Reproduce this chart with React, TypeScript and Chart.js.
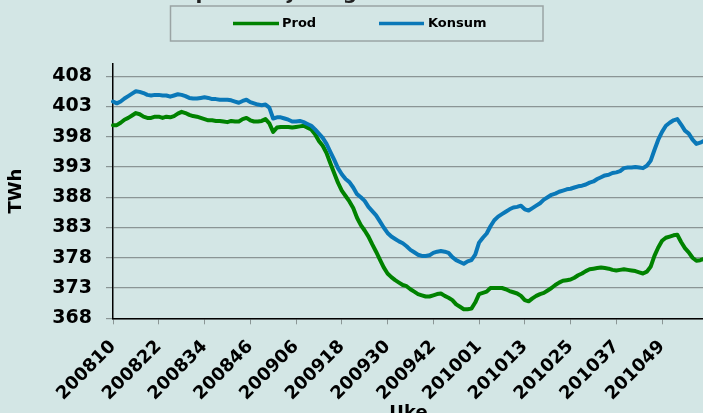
import React, { useEffect, useRef } from 'react';
import { Chart, registerables } from 'chart.js';

Chart.register(...registerables);

// ---- Data ----
const YEAR_WEEKS: Record<number, number> = { 2008: 52, 2009: 53, 2010: 52, 2011: 52 };
function buildWeeks(year: number, week: number, count: number): string[] {
  const out: string[] = [];
  let y = year;
  let w = week;
  for (let k = 0; k < count; k++) {
    out.push(`${y}${String(w).padStart(2, '0')}`);
    w++;
    if (w > YEAR_WEEKS[y]) {
      y++;
      w = 1;
    }
  }
  return out;
}

const prod = [
  399.9, 399.9, 400.3, 400.8, 401.1, 401.5, 401.9, 401.7, 401.3, 401.1,
  401.1, 401.3, 401.3, 401.1, 401.3, 401.2, 401.4, 401.8, 402.1, 401.9,
  401.6, 401.4, 401.3, 401.1, 400.9, 400.7, 400.7, 400.6, 400.6, 400.5,
  400.4, 400.6, 400.5, 400.5, 400.9, 401.1, 400.7, 400.5, 400.5, 400.6,
  400.9, 400.2, 398.8, 399.5, 399.6, 399.6, 399.6, 399.5, 399.6, 399.7,
  399.8, 399.5, 399.2, 398.4, 397.3, 396.5, 395.3, 393.6, 392.0, 390.4,
  389.1, 388.2, 387.3, 386.2, 384.6, 383.4, 382.5, 381.5, 380.2, 379.0,
  377.7, 376.4, 375.4, 374.8, 374.3, 373.9, 373.5, 373.3, 372.8, 372.4,
  372.0, 371.8, 371.6, 371.6, 371.8, 372.0, 372.1, 371.7, 371.4, 371.0,
  370.3, 369.9, 369.5, 369.5, 369.6, 370.6, 372.0, 372.2, 372.4, 373.0,
  373.0, 373.0, 373.0, 372.8, 372.5, 372.3, 372.1, 371.7, 371.0, 370.8,
  371.3, 371.7, 372.0, 372.2, 372.6, 373.0, 373.5, 373.9, 374.2, 374.3,
  374.4, 374.7, 375.1, 375.4, 375.8, 376.1, 376.2, 376.3, 376.4, 376.3,
  376.2, 376.0, 375.9, 376.0, 376.1, 376.0, 375.9, 375.8, 375.6, 375.4,
  375.7, 376.5, 378.3, 379.7, 380.8, 381.3, 381.5, 381.7, 381.8, 380.6,
  379.6, 378.9, 378.0, 377.5, 377.6, 377.8,
];

const konsum = [
  403.8, 403.5, 403.8, 404.3, 404.7, 405.1, 405.5, 405.4, 405.2, 404.9,
  404.8, 404.9, 404.9, 404.8, 404.8, 404.6, 404.8, 405.0, 404.9, 404.7,
  404.4, 404.3, 404.3, 404.4, 404.5, 404.4, 404.2, 404.2, 404.1, 404.1,
  404.1, 404.0, 403.8, 403.6, 403.9, 404.1, 403.7, 403.5, 403.3, 403.2,
  403.3, 402.8, 401.0, 401.2, 401.2, 401.0, 400.8, 400.5, 400.5, 400.6,
  400.4, 400.1, 399.8, 399.2, 398.5, 397.8, 396.8, 395.5, 394.2, 392.8,
  391.8, 391.0, 390.5, 389.6, 388.5, 388.0, 387.4, 386.4, 385.7, 385.0,
  384.0, 383.0, 382.1, 381.5, 381.1, 380.7, 380.4, 379.9, 379.3, 378.9,
  378.5, 378.3, 378.3, 378.4, 378.8, 379.0, 379.1, 379.0, 378.8, 378.1,
  377.6, 377.3, 377.0, 377.4, 377.6, 378.5, 380.5, 381.3, 382.0, 383.2,
  384.2, 384.8, 385.2, 385.6, 386.0, 386.3, 386.4, 386.6, 386.0, 385.8,
  386.2, 386.6, 387.0, 387.6, 388.0, 388.4, 388.6, 388.9, 389.1, 389.3,
  389.4, 389.6, 389.8, 389.9, 390.1, 390.4, 390.6, 391.0, 391.3, 391.6,
  391.7, 392.0, 392.1, 392.3, 392.8, 392.9, 392.9, 393.0, 392.9, 392.8,
  393.2, 394.0, 395.8, 397.5, 398.8, 399.8, 400.3, 400.7, 400.9, 400.0,
  399.0, 398.5, 397.5, 396.8, 397.0, 397.3,
];

const categories = buildWeeks(2008, 10, prod.length);

const xTickLabels = [
  '200810', '200822', '200834', '200846', '200906', '200918', '200930',
  '200942', '201001', '201013', '201025', '201037', '201049',
];

const yTicks = [368, 373, 378, 383, 388, 393, 398, 403, 408];
const yMin = 368;
const yMax = 410;

const seriesNames = ['Prod', 'Konsum'];
const seriesColors = ['#008200', '#0a78b8'];

const TITLE = 'Norsk produksjon og forbruk siste 52 uker';
const X_TITLE = 'Uke';
const Y_TITLE = 'TWh';

// ---- Styling ----
const BG = '#d3e6e5';
const GRID = '#8a9595';
const FONT = '"DejaVu Sans", Verdana, sans-serif';

const decorPlugin = {
  id: 'decor',
  beforeDraw(chart: any) {
    const ctx = chart.ctx;
    ctx.save();
    ctx.fillStyle = BG;
    ctx.fillRect(0, 0, chart.width, chart.height);
    ctx.restore();
  },
  afterDraw(chart: any) {
    const ctx = chart.ctx;
    ctx.save();
    // Title (almost entirely above the visible frame)
    ctx.fillStyle = '#222';
    ctx.font = `bold 20px ${FONT}`;
    ctx.textAlign = 'center';
    ctx.textBaseline = 'alphabetic';
    ctx.fillText(TITLE, 362, -1.5);

    // Legend box
    ctx.strokeStyle = '#9aa4a4';
    ctx.lineWidth = 1.5;
    ctx.strokeRect(170.5, 6, 372.5, 35);

    const entries = [
      { x1: 233, x2: 279, tx: 282 },
      { x1: 379, x2: 424, tx: 428 },
    ];
    const ly = 23.5;
    chart.data.datasets.forEach((ds: any, i: number) => {
      const e = entries[i];
      ctx.strokeStyle = ds.borderColor;
      ctx.lineWidth = 3.5;
      ctx.lineCap = 'butt';
      ctx.beginPath();
      ctx.moveTo(e.x1, ly);
      ctx.lineTo(e.x2, ly);
      ctx.stroke();
      ctx.fillStyle = '#000';
      ctx.font = `bold 13px ${FONT}`;
      ctx.textAlign = 'left';
      ctx.textBaseline = 'middle';
      ctx.fillText(ds.label, e.tx, ly);
    });
    ctx.restore();
  },
};

export default function App() {
  const canvasRef = useRef<HTMLCanvasElement | null>(null);

  useEffect(() => {
    const canvas = canvasRef.current;
    if (!canvas) return;
    const chart = new Chart(canvas, {
      type: 'line',
      data: {
        labels: categories,
        datasets: [
          {
            label: seriesNames[0],
            data: prod,
            borderColor: seriesColors[0],
            backgroundColor: seriesColors[0],
            borderWidth: 4,
            pointRadius: 0,
            tension: 0,
            borderCapStyle: 'round',
            borderJoinStyle: 'round',
            order: 1,
          },
          {
            label: seriesNames[1],
            data: konsum,
            borderColor: seriesColors[1],
            backgroundColor: seriesColors[1],
            borderWidth: 4,
            pointRadius: 0,
            tension: 0,
            borderCapStyle: 'round',
            borderJoinStyle: 'round',
            order: 0,
          },
        ],
      },
      options: {
        responsive: false,
        animation: false,
        devicePixelRatio: 1,
        layout: { padding: { top: 64, left: 0, right: 0, bottom: 0 } },
        plugins: {
          legend: { display: false },
          title: { display: false },
          tooltip: { enabled: false },
        },
        scales: {
          x: {
            type: 'category',
            offset: false,
            afterBuildTicks: (scale: any) => {
              scale.ticks = scale.ticks.filter((t: any) =>
                xTickLabels.includes(categories[t.value])
              );
            },
            afterFit: (scale: any) => {
              scale.height = 109.7;
              scale.paddingLeft = 0;
              scale.paddingRight = 0;
            },
            grid: {
              display: true,
              drawOnChartArea: false,
              drawTicks: true,
              tickLength: 6,
              color: GRID,
              lineWidth: 1,
            },
            border: { display: true, color: '#000', width: 1.5 },
            ticks: {
              autoSkip: false,
              maxRotation: 45,
              minRotation: 45,
              padding: 12,
              color: '#000',
              font: { family: FONT, size: 18, weight: 'bold' },
            },
            title: {
              display: true,
              text: X_TITLE,
              color: '#000',
              font: { family: FONT, size: 18, weight: 'bold' },
              padding: { top: 4, bottom: 4 },
            },
          },
          y: {
            type: 'linear',
            min: yMin,
            max: yMax,
            afterBuildTicks: (scale: any) => {
              scale.ticks = yTicks.map((v) => ({ value: v }));
            },
            afterFit: (scale: any) => {
              scale.width = 113;
            },
            grid: {
              display: true,
              drawOnChartArea: true,
              drawTicks: true,
              tickLength: 7,
              color: GRID,
              lineWidth: 1.2,
            },
            border: { display: true, color: '#000', width: 1.5 },
            ticks: {
              padding: 14,
              color: '#000',
              font: { family: FONT, size: 19, weight: 'bold' },
              callback: (v: any) => String(v),
            },
            title: {
              display: true,
              text: Y_TITLE,
              color: '#000',
              font: { family: FONT, size: 18, weight: 'bold' },
              padding: { top: 6, bottom: 0 },
            },
          },
        },
      },
      plugins: [decorPlugin],
    });
    return () => chart.destroy();
  }, []);

  return (
    <div
      style={{
        position: 'fixed',
        left: 0,
        top: 0,
        width: 703,
        height: 413,
        overflow: 'hidden',
        background: BG,
      }}
    >
      <canvas
        ref={canvasRef}
        width={704}
        height={428}
        style={{ position: 'absolute', left: 0, top: 0, width: 704, height: 428 }}
      />
    </div>
  );
}
